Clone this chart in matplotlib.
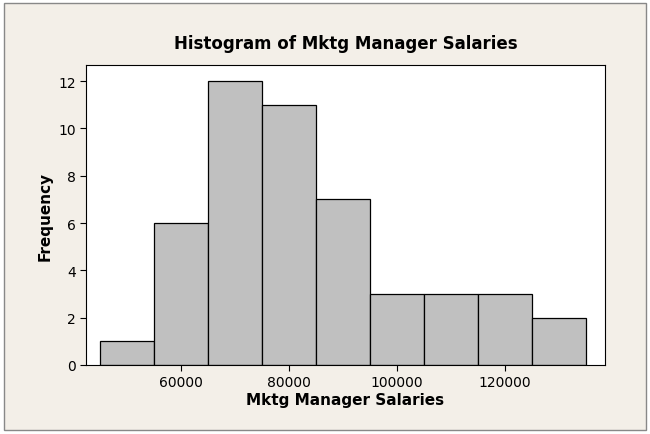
import matplotlib
matplotlib.use("Agg")
import matplotlib.pyplot as plt
from matplotlib.patches import Rectangle

bin_edges = [45000, 55000, 65000, 75000, 85000, 95000, 105000, 115000, 125000, 135000]
counts = [1, 6, 12, 11, 7, 3, 3, 3, 2]
xticks = [60000, 80000, 100000, 120000]
yticks = [0, 2, 4, 6, 8, 10, 12]

fig = plt.figure(figsize=(6.5, 4.35), dpi=100)
fig.patch.set_facecolor("white")
fig.patches.append(Rectangle((0.006, 0.01), 0.988, 0.98, transform=fig.transFigure,
                             facecolor="#F3EFE8", edgecolor="#888888", lw=1, zorder=-10))
ax = fig.add_axes([86/650, 1-366/435, (605-86)/650, (366-66)/435])
ax.set_facecolor("white")
widths = [bin_edges[i+1]-bin_edges[i] for i in range(len(counts))]
ax.bar(bin_edges[:-1], counts, width=widths, align="edge", color="#C0C0C0",
       edgecolor="black", linewidth=0.9)
ax.set_xlim(42400, 138500)
ax.set_ylim(0, 12.68)
ax.set_xticks(xticks)
ax.set_xticklabels([str(v) for v in xticks])
ax.set_yticks(yticks)
ax.tick_params(labelsize=10, direction="out", length=4)
ax.set_xlabel("Mktg Manager Salaries", fontsize=11, fontweight="bold", labelpad=2)
ax.set_ylabel("Frequency", fontsize=11, fontweight="bold")
ax.set_title("Histogram of Mktg Manager Salaries", fontsize=12, fontweight="bold", pad=12)
fig.savefig("out.png", dpi=100, facecolor=fig.get_facecolor())
